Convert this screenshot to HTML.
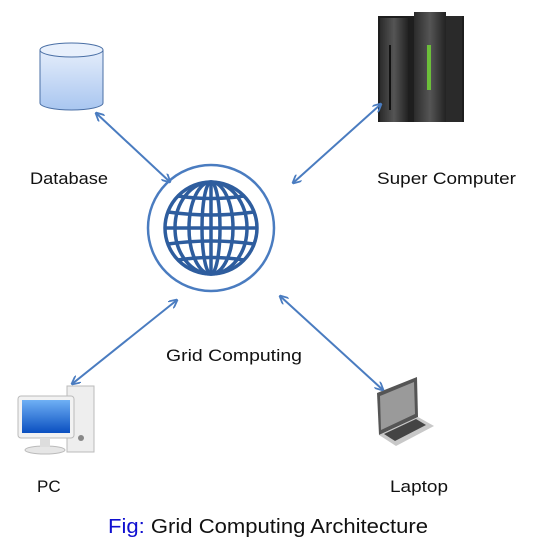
<!DOCTYPE html>
<html><head><meta charset="utf-8"><style>html,body{margin:0;padding:0;background:#fff}svg{display:block}</style></head>
<body>
<svg width="535" height="552" viewBox="0 0 535 552" xmlns="http://www.w3.org/2000/svg" font-family="Liberation Sans, sans-serif">
<defs>
<marker id="a" viewBox="0 0 10 10" refX="9" refY="5" markerWidth="9" markerHeight="9" orient="auto-start-reverse" markerUnits="userSpaceOnUse">
<path d="M0,0 L10,5 L0,10" fill="none" stroke="#4a7cc0" stroke-width="2"/></marker>
<linearGradient id="cyl" x1="0" y1="0" x2="0" y2="1"><stop offset="0" stop-color="#e4edfb"/><stop offset="1" stop-color="#a9c6f0"/></linearGradient>
<linearGradient id="scr" x1="0" y1="0" x2="0" y2="1"><stop offset="0" stop-color="#6fb0f5"/><stop offset="1" stop-color="#0a4fc0"/></linearGradient>
<linearGradient id="sc" x1="0" y1="0" x2="1" y2="0"><stop offset="0" stop-color="#2b2b2b"/><stop offset=".5" stop-color="#555"/><stop offset="1" stop-color="#222"/></linearGradient>
</defs>
<path d="M40,50 V103 A31.5,7 0 0 0 103,103 V50" fill="url(#cyl)" stroke="#4a6fa5" stroke-width="1"/>
<ellipse cx="71.5" cy="50" rx="31.5" ry="7" fill="#e8f0fc" stroke="#4a6fa5"/>
<rect x="378" y="16" width="86" height="106" fill="#1e1e1e"/>
<rect x="380" y="18" width="28" height="104" fill="url(#sc)"/>
<rect x="414" y="12" width="32" height="110" fill="url(#sc)"/>
<rect x="446" y="16" width="16" height="106" fill="#2a2a2a"/>
<rect x="389" y="45" width="2" height="65" fill="#111"/>
<rect x="427" y="45" width="4" height="45" fill="#6cbf3a"/>
<rect x="67" y="386" width="27" height="66" fill="#eee" stroke="#bbb"/>
<rect x="18" y="396" width="56" height="42" rx="3" fill="#f2f2f2" stroke="#bbb"/>
<rect x="22" y="400" width="48" height="33" fill="url(#scr)"/>
<ellipse cx="45" cy="450" rx="20" ry="4" fill="#e6e6e6" stroke="#bbb"/>
<rect x="40" y="438" width="10" height="9" fill="#ddd"/>
<circle cx="81" cy="438" r="3" fill="#888"/>
<path d="M377,393 L417,377 L418,417 L379,435 Z" fill="#555"/>
<path d="M380,396 L414,382 L415,414 L381,430 Z" fill="#9a9a9a"/>
<path d="M379,435 L418,417 L434,426 L396,446 Z" fill="#c8c8c8"/>
<path d="M384,434 L416,419 L426,425 L395,441 Z" fill="#444"/>
<circle cx="211" cy="228" r="63" fill="none" stroke="#4a7cc0" stroke-width="2.5"/>
<g fill="none" stroke="#2e5d9e" stroke-width="3.5">
<circle cx="211" cy="228" r="46"/>
<line x1="165" y1="228" x2="257" y2="228"/>
<line x1="211" y1="182" x2="211" y2="274"/>
<path d="M168,212 Q211,218 254,212 M168,244 Q211,238 254,244 M178,196 Q211,201 244,196 M178,260 Q211,255 244,260"/>
<ellipse cx="211" cy="228" rx="36" ry="46"/>
<ellipse cx="211" cy="228" rx="22" ry="46"/>
<ellipse cx="211" cy="228" rx="9" ry="46"/>
</g>
<g stroke="#4a7cc0" stroke-width="2" fill="none">
<line x1="96" y1="113" x2="170" y2="182" marker-start="url(#a)" marker-end="url(#a)"/>
<line x1="381" y1="104" x2="293" y2="183" marker-start="url(#a)" marker-end="url(#a)"/>
<line x1="72" y1="384" x2="177" y2="300" marker-start="url(#a)" marker-end="url(#a)"/>
<line x1="280" y1="296" x2="383" y2="390" marker-start="url(#a)" marker-end="url(#a)"/>
</g>
<g font-size="17" fill="#111">
<text x="30" y="184" textLength="78" lengthAdjust="spacingAndGlyphs">Database</text>
<text x="377" y="184" textLength="139" lengthAdjust="spacingAndGlyphs">Super Computer</text>
<text x="166" y="361" textLength="136" lengthAdjust="spacingAndGlyphs">Grid Computing</text>
<text x="37" y="492">PC</text>
<text x="390" y="492" textLength="58" lengthAdjust="spacingAndGlyphs">Laptop</text>
</g>
<text x="108" y="533" font-size="20" textLength="320" lengthAdjust="spacingAndGlyphs"><tspan fill="#1010d0">Fig:</tspan><tspan fill="#111"> Grid Computing Architecture</tspan></text>
</svg>
</body></html>
